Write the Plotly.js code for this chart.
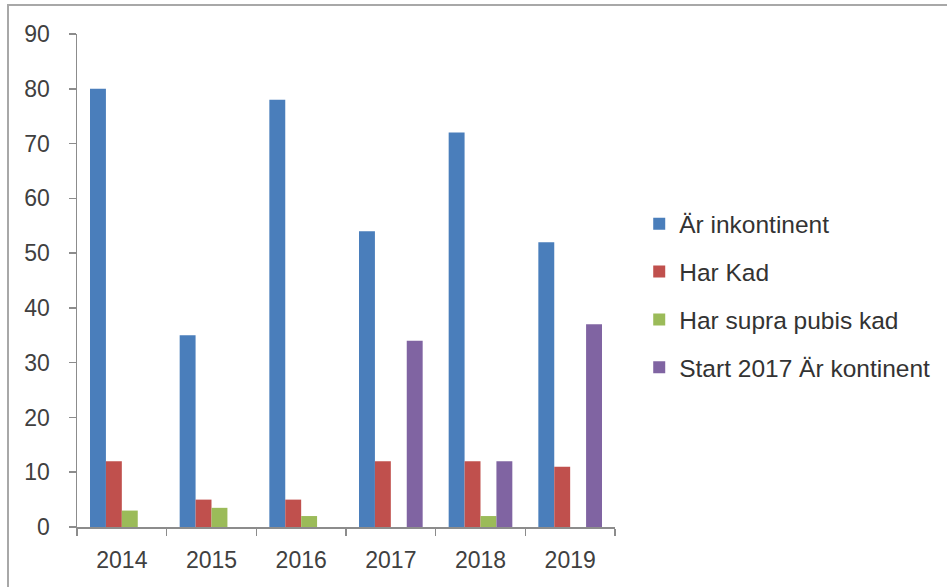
<!DOCTYPE html>
<html>
<head>
<meta charset="utf-8">
<script src="https://cdn.plot.ly/plotly-3.0.1.min.js"></script>
<style>
  html, body { margin: 0; padding: 0; background: #fff; }
  #chart { position: absolute; left: 0; top: 0; width: 947px; height: 587px; }
  #frame { position: absolute; left: 7px; top: 4px; width: 960px; height: 600px;
           border-top: 2px solid #a8a8a8; border-left: 2px solid #a8a8a8; pointer-events: none; }
</style>
</head>
<body>
<div id="chart"></div>
<div id="frame"></div>
<script>
const years = ["2014", "2015", "2016", "2017", "2018", "2019"];
const seriesNames = ["Är inkontinent", "Har Kad", "Har supra pubis kad", "Start 2017 Är kontinent"];
const arInkontinent = [80, 35, 78, 54, 72, 52];
const harKad = [12, 5, 5, 12, 12, 11];
const harSupraPubisKad = [3, 3.5, 2, 0, 2, 0];
const start2017ArKontinent = [0, 0, 0, 34, 12, 37];
const yTicks = [0, 10, 20, 30, 40, 50, 60, 70, 80, 90];

const colors = ["#4a7ebb", "#c0504d", "#9bbb59", "#8064a2"];
const values = [arInkontinent, harKad, harSupraPubisKad, start2017ArKontinent];

const traces = values.map((v, i) => ({
  type: "bar",
  name: seriesNames[i],
  x: years,
  y: v,
  marker: { color: colors[i] },
  legendgroup: "g" + i,
  hoverinfo: "x+y+name"
}));

const layout = {
  width: 947,
  height: 587,
  margin: { l: 77, r: 332, t: 34, b: 60 },
  paper_bgcolor: "#ffffff",
  plot_bgcolor: "#ffffff",
  barmode: "group",
  bargap: 0.29,
  bargroupgap: 0,
  font: { family: "Liberation Sans, Arial, sans-serif", color: "#404040" },
  xaxis: {
    type: "category",
    automargin: false,
    showline: true,
    linecolor: "#8c8c8c",
    linewidth: 1.5,
    ticks: "outside",
    tickson: "boundaries",
    ticklen: 7,
    tickcolor: "#8c8c8c",
    tickwidth: 1.5,
    tickfont: { size: 23, color: "#404040" },
    ticklabelstandoff: 12,
    showgrid: false,
    zeroline: false
  },
  yaxis: {
    range: [0, 90],
    automargin: false,
    tickvals: yTicks,
    ticktext: yTicks.map(String),
    showline: true,
    linecolor: "#8c8c8c",
    linewidth: 1.5,
    ticks: "outside",
    ticklen: 7,
    tickcolor: "#8c8c8c",
    tickwidth: 1.5,
    tickfont: { size: 23, color: "#404040" },
    ticklabelstandoff: 14,
    showgrid: false,
    zeroline: false
  },
  showlegend: true,
  legend: {
    xref: "container",
    yref: "container",
    x: 0.675,
    xanchor: "left",
    y: 0.496,
    yanchor: "middle",
    traceorder: "grouped",
    tracegroupgap: 13,
    font: { size: 24.5, color: "#333333" },
    bgcolor: "rgba(0,0,0,0)"
  }
};

Plotly.newPlot("chart", traces, layout, { displayModeBar: false, staticPlot: true });
</script>
</body>
</html>
